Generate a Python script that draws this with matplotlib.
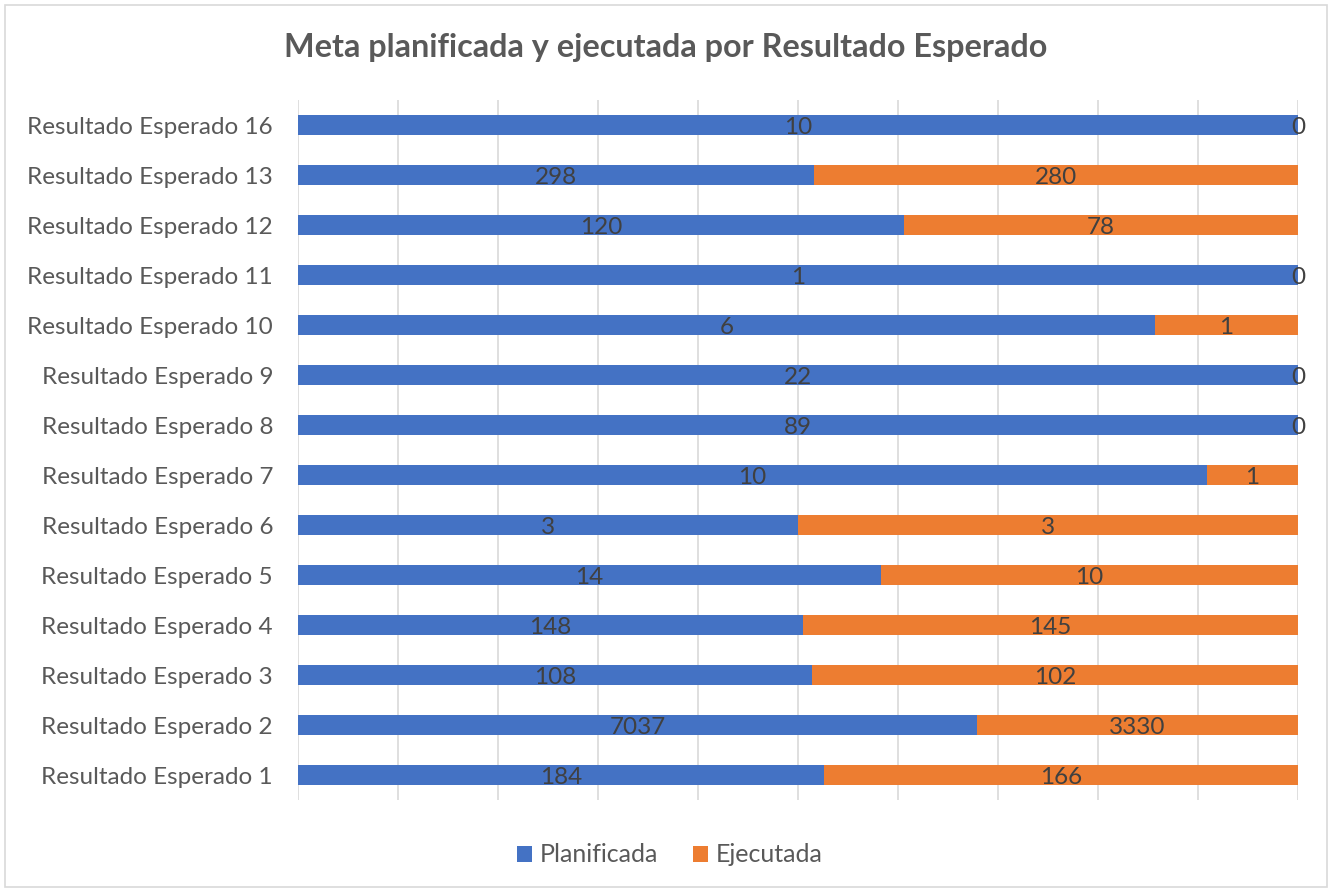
import matplotlib.pyplot as plt
import matplotlib.patches as mpatches
import numpy as np

plt.rcParams['font.family'] = ['Lato', 'DejaVu Sans']

categories = ['Resultado Esperado 1', 'Resultado Esperado 2', 'Resultado Esperado 3',
              'Resultado Esperado 4', 'Resultado Esperado 5', 'Resultado Esperado 6',
              'Resultado Esperado 7', 'Resultado Esperado 8', 'Resultado Esperado 9',
              'Resultado Esperado 10', 'Resultado Esperado 11', 'Resultado Esperado 12',
              'Resultado Esperado 13', 'Resultado Esperado 16']
planificada = [184, 7037, 108, 148, 14, 3, 10, 89, 22, 6, 1, 120, 298, 10]
ejecutada = [166, 3330, 102, 145, 10, 3, 1, 0, 0, 1, 0, 78, 280, 0]

blue = '#4472C4'
orange = '#ED7D31'
text_grey = '#595959'
label_grey = '#404040'

plan = np.array(planificada, dtype=float)
ejec = np.array(ejecutada, dtype=float)
total = plan + ejec
p_pct = plan / total * 100
e_pct = ejec / total * 100
y = np.arange(len(categories))

fig = plt.figure(figsize=(13.32, 8.91), dpi=100)
ax = fig.add_axes([298 / 1332, 1 - 800 / 891, 1000 / 1332, 700 / 891])

ax.barh(y, p_pct, height=0.4, color=blue, label='Planificada', zorder=2)
ax.barh(y, e_pct, left=p_pct, height=0.4, color=orange, label='Ejecutada', zorder=2)

for i in range(len(y)):
    ax.text(p_pct[i] / 2, y[i] - 0.04, str(planificada[i]), ha='center', va='center',
            fontsize=17.5, color=label_grey, zorder=3)
    ax.text(p_pct[i] + e_pct[i] / 2, y[i] - 0.04, str(ejecutada[i]), ha='center', va='center',
            fontsize=17.5, color=label_grey, zorder=3)

ax.set_xlim(0, 100)
ax.set_ylim(-0.5, len(y) - 0.5)
ax.set_xticks(np.arange(0, 101, 10))
ax.set_xticklabels([])
ax.set_yticks(y)
ax.set_yticklabels(categories, fontsize=17.5, color=text_grey)
ax.tick_params(length=0, pad=18)
ax.grid(axis='x', color='#D9D9D9', linewidth=1.2, zorder=0)
for s in ax.spines.values():
    s.set_visible(False)

fig.text(0.5, 1 - 47 / 891, 'Meta planificada y ejecutada por Resultado Esperado',
         ha='center', va='center', fontsize=23.3, fontweight='bold', color=text_grey)

fig.legend(loc='center', bbox_to_anchor=(0.503, 1 - 855 / 891), ncol=2, frameon=False,
           fontsize=18, labelcolor=text_grey, handlelength=0.6, handleheight=0.6,
           handletextpad=0.3, columnspacing=1.4)

fig.patches.append(mpatches.Rectangle((5 / 1332, 4 / 891), 1322 / 1332, 882 / 891,
                                      transform=fig.transFigure, fill=False,
                                      edgecolor='#D9D9D9', linewidth=1.2))

fig.savefig('out.png', dpi=100)
